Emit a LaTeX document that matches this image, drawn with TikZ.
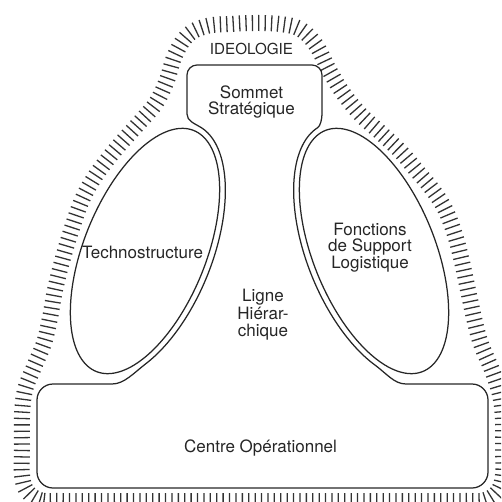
\documentclass[tikz,border=0pt]{standalone}
\usepackage{fontspec}
\setmainfont{TeX Gyre Heros}
\usetikzlibrary{decorations.pathreplacing}
\begin{document}
\begin{tikzpicture}[x=1pt,y=-1pt,
  outline/.style={draw=black!85, line width=1.25pt, line join=round},
  band/.style={draw=black!80, line width=1.3pt, decorate,
    decoration={ticks, segment length=6.4pt, amplitude=8pt}},
  lbl/.style={text=black!85, inner sep=0pt, align=center,
    font={\fontsize{17}{16.7}\selectfont}}]
\useasboundingbox (0,0) rectangle (501,502);
\clip (0,0) rectangle (501,502);

% ideology band
\draw[band] plot[smooth cycle, tension=0.6] coordinates {
 (60,501) (40,500) (27,491) (22,475) (22,445) (22,415) (25,390) (34,367)
 (44,343) (50,318) (55,290) (63,258) (72,228) (82,200) (94,178) (107,160)
 (122,142) (139,123) (156,103) (167,80) (175,55) (188,35) (207,26) (230,24)
 (255,23) (280,24) (300,29) (316,45) (329,70) (343,93) (361,115) (381,133)
 (401,152) (417,171) (432,189) (445,209) (455,235) (462,262) (468,290)
 (474,318) (481,344) (492,370) (500,395) (503,420) (503,450) (503,475)
 (498,491) (485,500) (465,501) (400,501) (330,501) (260,501) (190,501) (120,501)};

% sommet + ligne hierarchique + centre operationnel
\draw[outline] (187,75) .. controls (187,69.48) and (191.48,65) .. (197,65)
  -- (312,65) .. controls (317.52,65) and (322,69.48) .. (322,75)
  -- (322,114) .. controls (322,119) and (320.3,126) .. (317.8,127.6)
  -- plot[domain=5:140, samples=80] ({374-51*cos(\x)-62.1*sin(\x)},{251-126.07*cos(\x)+25.1*sin(\x)})
  .. controls (386.8,373.5) and (394,384) .. (406,384)
  -- (472,384) .. controls (480.8,384) and (488,391.2) .. (488,400)
  -- (488,472) .. controls (488,480.8) and (480.8,488) .. (472,488)
  -- (53,488) .. controls (44.2,488) and (37,480.8) .. (37,472)
  -- (37,400) .. controls (37,391.2) and (44.2,384) .. (53,384)
  -- (112,384) .. controls (124,384) and (133.2,373.5) .. (145.85,363.7)
  -- plot[domain=140:5, samples=80] ({145+51*cos(\x)+62.1*sin(\x)},{251-126.07*cos(\x)+25.1*sin(\x)})
  .. controls (194.4,123.4) and (187,121) .. (187,114) -- cycle;

% ellipses
\draw[outline] plot[domain=0:360, samples=145] ({145+48.75*cos(\x)+56.55*sin(\x)},{251-120.51*cos(\x)+22.88*sin(\x)}) -- cycle;
\draw[outline] plot[domain=0:360, samples=145] ({374-48.75*cos(\x)-56.55*sin(\x)},{251-120.51*cos(\x)+22.88*sin(\x)}) -- cycle;

% labels
\node[lbl, font={\fontsize{15.2}{15}\selectfont}, anchor=base] (ideo) at (251.5,55) {IDEOLOGIE};
\node[lbl] (sommet) at (251.5,102) {Sommet\\Stratégique};
\node[lbl, anchor=base] (techno) at (142.5,258) {Technostructure};
\node[lbl] (support) at (370,247.5) {Fonctions\\de Support\\Logistique};
\node[lbl, font={\fontsize{17}{17.5}\selectfont}] (ligne) at (263,315) {Ligne\\Hiérar-\\chique};
\node[lbl, anchor=base] (centre) at (260.5,452.5) {Centre Opérationnel};
\end{tikzpicture}
\end{document}
